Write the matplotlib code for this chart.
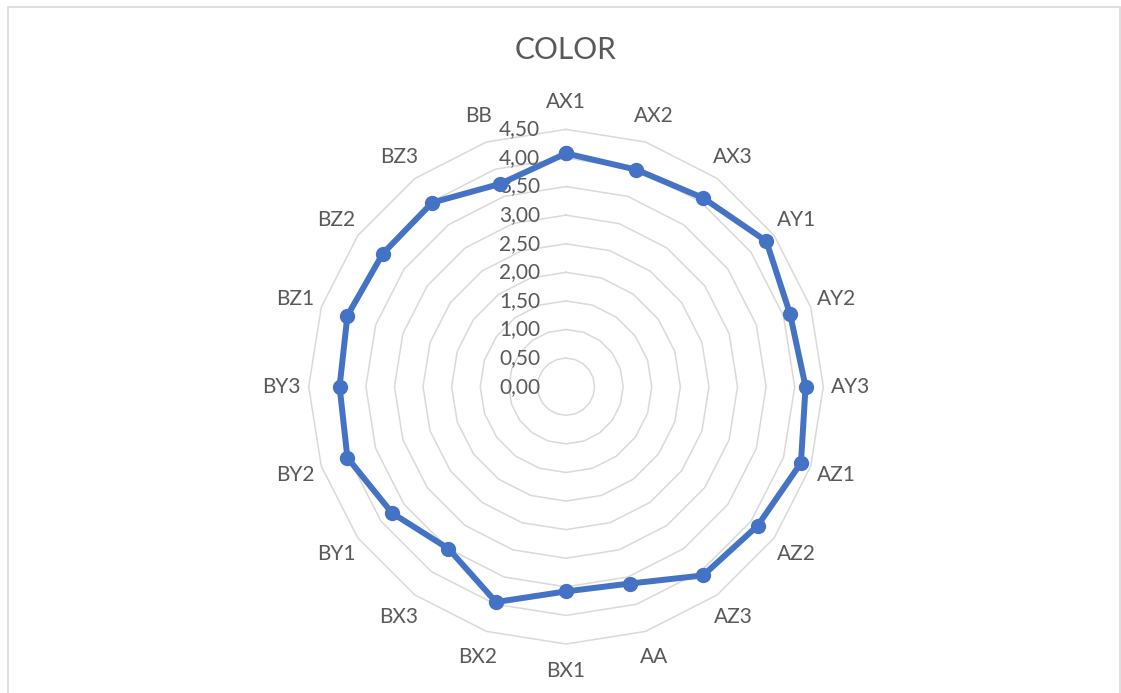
import numpy as np
import matplotlib
matplotlib.use('Agg')
import matplotlib.pyplot as plt
import matplotlib.transforms as mtransforms
from matplotlib.patches import Rectangle

plt.rcParams['font.family'] = ['Lato', 'DejaVu Sans']

# %% data
categories = ['AX1', 'AX2', 'AX3', 'AY1', 'AY2', 'AY3', 'AZ1', 'AZ2', 'AZ3', 'AA',
              'BX1', 'BX2', 'BX3', 'BY1', 'BY2', 'BY3', 'BZ1', 'BZ2', 'BZ3', 'BB']
values = [4.08, 3.99, 4.08, 4.33, 4.12, 4.19, 4.32, 4.14, 4.08, 3.62,
          3.58, 3.96, 3.50, 3.76, 4.02, 3.96, 4.02, 3.96, 3.98, 3.73]
levels = [0.0, 0.5, 1.0, 1.5, 2.0, 2.5, 3.0, 3.5, 4.0, 4.5]
level_labels = ['0,00', '0,50', '1,00', '1,50', '2,00', '2,50', '3,00', '3,50', '4,00', '4,50']
title = 'COLOR'

text_col = '#595959'
grid_col = '#D9D9D9'
line_col = '#4472C4'

W, H = 1121, 693
fig = plt.figure(figsize=(W / 100, H / 100), dpi=100)

# chart border (Excel chart area)
fig.patches.append(Rectangle((8 / W, -0.01), 1112 / W, (H - 6.5) / H + 0.01,
                             transform=fig.transFigure, fill=False,
                             edgecolor=grid_col, linewidth=1.2))

# centre at (566, 386.7) px, outer ring radius 257.3 px
cx, cy, R = 566, H - 386.7, 257.3
ax = fig.add_axes([(cx - R) / W, (cy - R) / H, 2 * R / W, 2 * R / H], projection='polar')
ax.set_theta_zero_location('N')
ax.set_theta_direction(-1)
ax.set_ylim(0, 4.5)
ax.grid(False)
ax.spines['polar'].set_visible(False)
ax.set_yticks([])

theta = np.linspace(0, 2 * np.pi, len(categories), endpoint=False)
theta_c = np.append(theta, theta[0])

# polygon gridlines
for lv in levels[1:]:
    ax.plot(theta_c, [lv] * len(theta_c), color=grid_col, linewidth=1.1, zorder=1, clip_on=False)

# series
vals_c = values + values[:1]
ax.plot(theta_c, vals_c, color=line_col, linewidth=4.3, marker='o', markersize=10,
        zorder=3, clip_on=False)

# category labels
ax.set_xticks(theta)
ax.set_xticklabels(categories, color=text_col, fontsize=15)
ax.tick_params(axis='x', pad=12.5, length=0)

# value labels on vertical axis
off = mtransforms.offset_copy(ax.transData, fig=fig, x=-26, y=0, units='dots')
for lv, lab in zip(levels, level_labels):
    ax.text(0, lv, lab, transform=off, ha='right', va='center',
            color=text_col, fontsize=15, zorder=2)

fig.text(cx / W, 1 - 50 / H, title, ha='center', va='center', color=text_col, fontsize=21.5)

fig.savefig('out.png', dpi=100)
